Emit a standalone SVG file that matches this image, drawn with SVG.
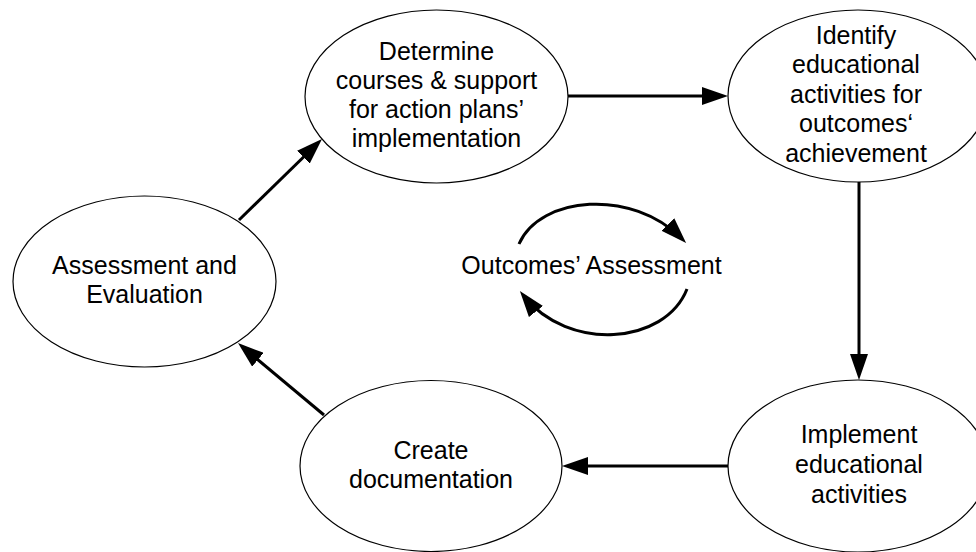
<svg xmlns="http://www.w3.org/2000/svg" width="976" height="552" viewBox="0 0 976 552">
<style>
.node ellipse{fill:#fff;stroke:#000;stroke-width:1.2}
text{font-family:"Liberation Sans",Arial,sans-serif;font-size:25px;fill:#000;text-anchor:middle}
.conn path,.conn line{fill:none;stroke:#000;stroke-width:3;marker-end:url(#ah)}
</style>
<defs>
<marker id="ah" markerUnits="userSpaceOnUse" markerWidth="26" markerHeight="18" refX="20" refY="9" orient="auto">
<path d="M0,0 L26,9 L0,18 z" fill="#000"/>
</marker>
</defs>
<rect width="976" height="552" fill="#fff"/>
<g class="conn" id="connectors">
<line x1="239" y1="220" x2="317.7" y2="143.2"/>
<line x1="568" y1="96" x2="722" y2="96"/>
<line x1="859" y1="182" x2="859" y2="374"/>
<line x1="728" y1="466" x2="568" y2="466"/>
<line x1="324" y1="415" x2="242.6" y2="346.9"/>
<path d="M519,244 C540,196 632,188 681.9,238.7"/>
<path d="M687,289 C665,345 568,352 523.6,295.8"/>
</g>
<g class="node" id="n-determine">
<ellipse cx="436.5" cy="96.5" rx="131.5" ry="86.5"/>
<text x="436.5" y="60">Determine</text>
<text x="436.5" y="89">courses &amp; support</text>
<text x="436.5" y="118">for action plans’</text>
<text x="436.5" y="147">implementation</text>
</g>
<g class="node" id="n-identify">
<ellipse cx="858" cy="96" rx="130" ry="86"/>
<text x="856" y="43.5">Identify</text>
<text x="856" y="73">educational</text>
<text x="856" y="102.5">activities for</text>
<text x="856" y="132">outcomes‘</text>
<text x="856" y="161.5">achievement</text>
</g>
<g class="node" id="n-assessment">
<ellipse cx="144.5" cy="281.5" rx="131.5" ry="85.5"/>
<text x="144.5" y="274">Assessment and</text>
<text x="144.5" y="303">Evaluation</text>
</g>
<g class="node" id="n-create">
<ellipse cx="431" cy="466" rx="131" ry="85.5"/>
<text x="431" y="459">Create</text>
<text x="431" y="488">documentation</text>
</g>
<g class="node" id="n-implement">
<ellipse cx="858" cy="466" rx="130" ry="86"/>
<text x="859" y="443">Implement</text>
<text x="859" y="473">educational</text>
<text x="859" y="503">activities</text>
</g>
<g id="center-label">
<text x="591.5" y="274">Outcomes’ Assessment</text>
</g>
</svg>
